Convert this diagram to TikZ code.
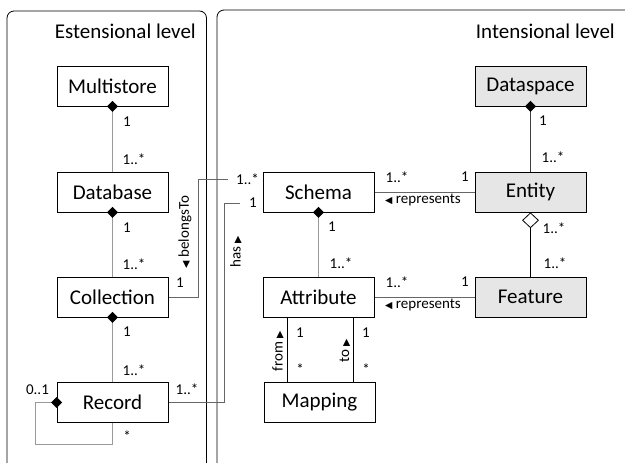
\documentclass[tikz,border=0pt]{standalone}
\usepackage{fontspec}
\setmainfont{Carlito}
\newfontfamily\symf{DejaVu Sans}
\usetikzlibrary{shapes.geometric}
\definecolor{boxgray}{HTML}{E6E6E6}
\definecolor{lgray}{HTML}{9A9A9A}
\definecolor{mgray}{HTML}{666666}
\newcommand\ltri{{\symf\fontsize{9.5}{9.5}\selectfont ◀}}
\newcommand\rtri{{\symf\fontsize{9.5}{9.5}\selectfont ▶}}
\begin{document}
\begin{tikzpicture}[x=1pt,y=-1pt,
  box/.style={draw, line width=0.8pt, minimum width=111pt, minimum height=40pt, inner sep=0pt, font=\fontsize{21}{25}\selectfont, fill=white},
  gbox/.style={box, fill=boxgray},
  lbl/.style={font=\fontsize{15}{17}\selectfont, inner sep=0pt},
  title/.style={font=\fontsize{21}{25}\selectfont, inner sep=0pt, anchor=east},
  comp/.style={diamond, fill=black, inner sep=0pt, minimum width=11pt, minimum height=11pt},
  aggr/.style={diamond, draw, fill=white, line width=0.8pt, inner sep=0pt, minimum width=16pt, minimum height=15pt, anchor=north},
  lgline/.style={draw=lgray, line width=0.8pt},
  mline/.style={draw=mgray, line width=0.8pt},
  dline/.style={draw=black!75, line width=0.8pt},
  bline/.style={draw=black, line width=0.8pt},
  panel/.style={draw=black, line width=0.8pt, rounded corners=7pt},
  cover/.style={lbl, fill=white, minimum height=12pt}
]
\useasboundingbox (0,0) rectangle (625,465);

% panels
\draw[panel] (7,463) -- (7,11) -- (206.5,11) -- (206.5,463);
\draw[panel] (217,463) -- (217,10) -- (640,10);
\node[title] (t1) at (196,31) {Estensional level};
\node[title] (t2) at (615,31) {Intensional level};

% boxes (positions)
\node[box] (mul) at (112.5,86) {Multistore};
\node[box] (db) at (112.5,192) {Database};
\node[box] (col) at (112.5,297) {Collection};
\node[box] (rec) at (112.5,402.5) {Record};
\node[box] (sch) at (318.5,192) {Schema};
\node[box] (att) at (318.5,297) {Attribute};
\node[box] (map) at (319.5,402.5) {Mapping};
\node[gbox] (ds) at (530.5,86) {Dataspace};
\node[gbox] (ent) at (530.5,192) {Entity};
\node[gbox] (feat) at (530.5,297) {Feature};

% connectors
\draw[lgline] (mul.south) -- (db.north);
\draw[lgline] (db.south) -- (col.north);
\draw[lgline] (col.south) -- (rec.north);
\draw[lgline] (rec.west) -- ++(-21.5,0) |- ([yshift=-22pt]rec.south) -- (rec.south);
\draw[lgline] (sch.south) -- (att.north);
\draw[dline] (ds.south) -- (ent.north);
\draw[bline] (ent.south) -- (feat.north);
\draw[mline] (sch.east) -- (ent.west);
\draw[mline] (att.east) -- (feat.west);
\draw[bline] ([xshift=-31.5pt]att.south) -- ([xshift=-32.5pt]map.north);
\draw[bline] ([xshift=34.5pt]att.south) -- ([xshift=33.5pt]map.north);
\coordinate (bt) at (198,179);
\draw[mline] (col.east) -| (bt) -- ([yshift=13pt]sch.west);
\coordinate (hs) at (224,203);
\draw[mline] (rec.east) -| (hs) -- ([yshift=-11pt]sch.west);

% redraw boxes on top
\node[box] at (mul) {Multistore};
\node[box] at (db) {Database};
\node[box] at (col) {Collection};
\node[box] at (rec) {Record};
\node[box] at (sch) {Schema};
\node[box] at (att) {Attribute};
\node[box] at (map) {Mapping};
\node[gbox] at (ds) {Dataspace};
\node[gbox] at (ent) {Entity};
\node[gbox] at (feat) {Feature};

% diamonds
\node[comp] (md) at (mul.south) {};
\node[comp] (dd) at (db.south) {};
\node[comp] (cd) at (col.south) {};
\node[comp] (rd) at (rec.west) {};
\node[comp] (sd) at (sch.south) {};
\node[comp] (dsd) at (ds.south) {};
\node[aggr] (ed) at (ent.south) {};

% cover labels on connector ends
\node[cover, minimum width=35pt] (c1) at (245.5,179) {\hspace*{4pt}1..*};
\node[cover, minimum width=23pt] (c2) at (251.5,203) {\hspace*{3pt}1};

% multiplicities
\node[lbl] (m1) at (127,122) {1};
\node[lbl] (m2) at (134,159) {1..*};
\node[lbl] (m3) at (127,228) {1};
\node[lbl] (m4) at (134,264) {1..*};
\node[lbl] (m5) at (127,332) {1};
\node[lbl] (m6) at (134,370) {1..*};
\node[lbl] (m7) at (37.5,390) {0..1};
\node[lbl] (m8) at (127,436) {*};
\node[lbl] (m9) at (187,389) {1..*};
\node[lbl] (m10) at (180,283) {1};
\node[lbl] (m11) at (332,227) {1};
\node[lbl] (m12) at (341,263) {1..*};
\node[lbl] (m13) at (300,333) {1};
\node[lbl] (m14) at (300,369) {*};
\node[lbl] (m15) at (366,333) {1};
\node[lbl] (m16) at (366,369) {*};
\node[lbl] (m17) at (543,121) {1};
\node[lbl] (m18) at (553,157) {1..*};
\node[lbl] (m19) at (554,228) {1..*};
\node[lbl] (m20) at (555,263) {1..*};
\node[lbl] (m21) at (397,177) {1..*};
\node[lbl] (m22) at (465,177) {1};
\node[lbl] (m23) at (397,282) {1..*};
\node[lbl] (m24) at (465,282) {1};

% association names
\node[lbl] (r1) at (423,200) {\ltri\ represents};
\node[lbl] (r2) at (423,305) {\ltri\ represents};
\node[lbl, rotate=90] (bl) at (185,232) {\ltri\ belongsTo};
\node[lbl, rotate=90] (hl) at (236,252) {has\ \rtri};
\node[lbl, rotate=90] (fl) at (278,351) {from\ \rtri};
\node[lbl, rotate=90] (tl) at (345,351) {to\ \rtri};
\end{tikzpicture}
\end{document}
